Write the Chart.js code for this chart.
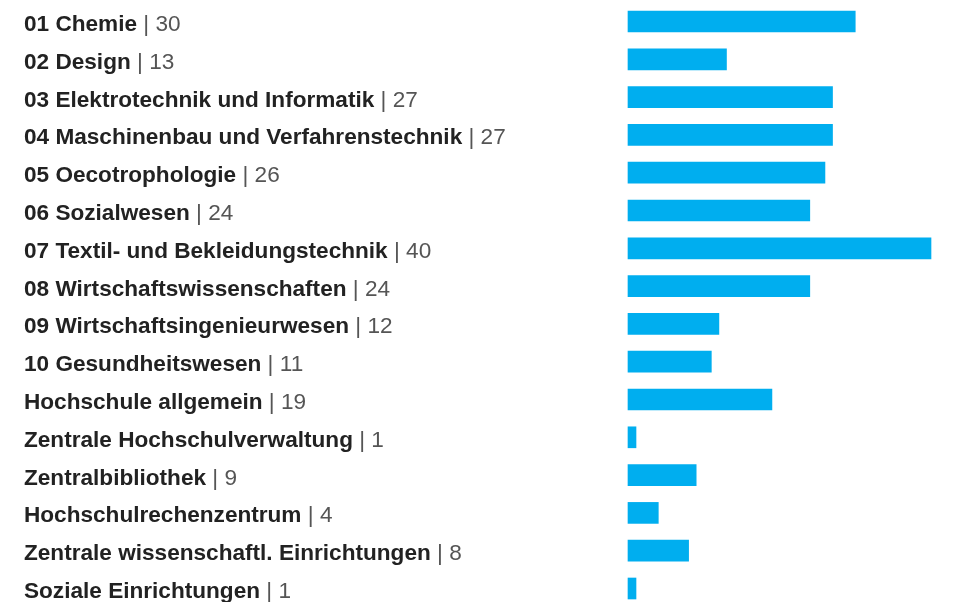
<!DOCTYPE html>
<html>
<head>
<meta charset="utf-8">
<script src="https://cdn.jsdelivr.net/npm/chart.js@4"></script>
<style>
html,body{margin:0;padding:0;background:#fff;}
#wrap{width:964px;height:602px;position:relative;}
</style>
</head>
<body>
<div id="wrap"><canvas id="c" width="964" height="602"></canvas></div>
<script>
const categories = [
  "01 Chemie",
  "02 Design",
  "03 Elektrotechnik und Informatik",
  "04 Maschinenbau und Verfahrenstechnik",
  "05 Oecotrophologie",
  "06 Sozialwesen",
  "07 Textil- und Bekleidungstechnik",
  "08 Wirtschaftswissenschaften",
  "09 Wirtschaftsingenieurwesen",
  "10 Gesundheitswesen",
  "Hochschule allgemein",
  "Zentrale Hochschulverwaltung",
  "Zentralbibliothek",
  "Hochschulrechenzentrum",
  "Zentrale wissenschaftl. Einrichtungen",
  "Soziale Einrichtungen"
];
const values = [30, 13, 27, 27, 26, 24, 40, 24, 12, 11, 19, 1, 9, 4, 8, 1];
const axisMax = 40;

const labelPlugin = {
  id: 'mixedLabels',
  afterDraw(chart) {
    const ctx = chart.ctx;
    const yScale = chart.scales.y;
    ctx.save();
    ctx.textBaseline = 'alphabetic';
    categories.forEach((name, i) => {
      const y = yScale.getPixelForValue(i) + 9.5;
      const x = 24;
      ctx.font = 'bold 22.6px "Liberation Sans", Arial, sans-serif';
      ctx.fillStyle = '#222222';
      ctx.fillText(name, x, y);
      const w = ctx.measureText(name).width;
      ctx.font = '22.6px "Liberation Sans", Arial, sans-serif';
      ctx.fillStyle = '#555555';
      ctx.fillText(' | ' + values[i], x + w, y);
    });
    ctx.restore();
  }
};

new Chart(document.getElementById('c'), {
  type: 'bar',
  data: {
    labels: categories,
    datasets: [{
      data: values,
      backgroundColor: '#00AEEF',
      borderWidth: 0,
      barThickness: 21,
      minBarLength: 8,
      clip: false
    }]
  },
  options: {
    indexAxis: 'y',
    responsive: false,
    animation: false,
    layout: { padding: { left: 628, right: 33, top: 21.5, bottom: 13.5 } },
    plugins: { legend: { display: false }, tooltip: { enabled: false } },
    scales: {
      x: { display: false, min: 0, max: axisMax },
      y: { display: false, offset: false, grid: { display: false } }
    }
  },
  plugins: [labelPlugin]
});
</script>
</body>
</html>
